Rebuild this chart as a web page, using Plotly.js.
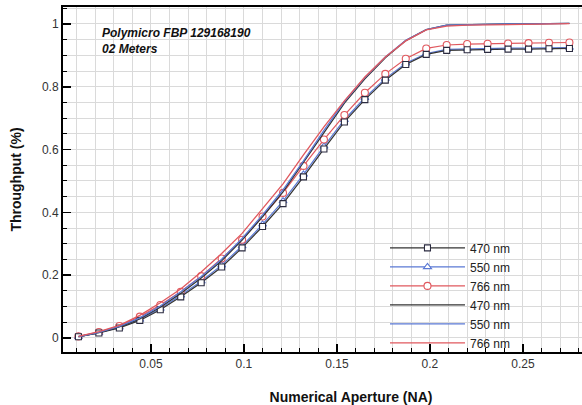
<!DOCTYPE html>
<html>
<head>
<meta charset="utf-8">
<script src="https://cdn.plot.ly/plotly-3.0.1.min.js"></script>
<style>
html, body { margin: 0; padding: 0; overflow: hidden; background: #fff; }
#chart { width: 640px; height: 405px; }
</style>
</head>
<body>
<div id="chart"></div>
<script>
// Numerical aperture values (x)
var na = [0.011, 0.022, 0.033, 0.044, 0.055, 0.066, 0.077, 0.088, 0.099, 0.110,
          0.121, 0.132, 0.143, 0.154, 0.165, 0.176, 0.187, 0.198, 0.209, 0.220,
          0.231, 0.242, 0.253, 0.264, 0.275];

// X tick labels
var xTicks = [0.05, 0.1, 0.15, 0.2, 0.25];

// Measured throughput (with markers)
var t470 = [0.004, 0.016, 0.032, 0.056, 0.090, 0.131, 0.176, 0.226, 0.287, 0.355,
            0.428, 0.513, 0.602, 0.688, 0.759, 0.821, 0.871, 0.903, 0.916, 0.918,
            0.919, 0.920, 0.920, 0.921, 0.922];
var t550 = [0.004, 0.017, 0.034, 0.059, 0.094, 0.136, 0.181, 0.232, 0.293, 0.362,
            0.436, 0.521, 0.610, 0.695, 0.765, 0.826, 0.875, 0.906, 0.919, 0.921,
            0.922, 0.923, 0.923, 0.924, 0.925];
var t766 = [0.005, 0.019, 0.038, 0.068, 0.105, 0.147, 0.197, 0.253, 0.313, 0.387,
            0.462, 0.548, 0.632, 0.710, 0.781, 0.841, 0.889, 0.922, 0.933, 0.936,
            0.937, 0.938, 0.939, 0.940, 0.941];

// Normalized throughput (lines only)
var n470 = [0.004, 0.017, 0.035, 0.061, 0.098, 0.142, 0.191, 0.246, 0.312, 0.386,
            0.465, 0.558, 0.654, 0.748, 0.825, 0.892, 0.947, 0.982, 0.996, 0.998,
            0.999, 1.000, 1.000, 1.001, 1.002];
var n550 = [0.004, 0.018, 0.037, 0.064, 0.102, 0.147, 0.196, 0.251, 0.317, 0.392,
            0.472, 0.564, 0.661, 0.753, 0.829, 0.895, 0.948, 0.982, 0.996, 0.998,
            0.999, 1.000, 1.000, 1.001, 1.002];
var n766 = [0.005, 0.020, 0.040, 0.072, 0.112, 0.156, 0.210, 0.269, 0.333, 0.412,
            0.491, 0.583, 0.672, 0.755, 0.831, 0.895, 0.946, 0.981, 0.993, 0.996,
            0.997, 0.998, 0.999, 1.000, 1.001];

var names = ['470 nm', '550 nm', '766 nm'];
var noteText = 'Polymicro FBP 129168190<br>02 Meters';
var xTitle = 'Numerical Aperture (NA)';
var yTitle = 'Throughput (%)';

var cBlack = '#333333', cBlue = '#5a78d4', cRed = '#e0585e';
var FONT = 'Liberation Sans, Arial, Helvetica, sans-serif';

function mk(y, name, color, symbol, size) {
  return {
    x: na, y: y, name: name, type: 'scatter', mode: 'lines+markers',
    line: {color: color, width: 1.2},
    marker: {symbol: symbol, size: size, color: '#ffffff', line: {color: color, width: 1.1}}
  };
}
function ln(y, name, color) {
  return {x: na, y: y, name: name, type: 'scatter', mode: 'lines',
          line: {color: color, width: 1.3}};
}

var data = [
  mk(t550, names[1], cBlue, 'triangle-up', 7),
  mk(t766, names[2], cRed, 'circle', 7),
  mk(t470, names[0], cBlack, 'square', 6),
  ln(n470, names[0], cBlack),
  ln(n550, names[1], cBlue),
  ln(n766, names[2], cRed)
];
data[2].marker.line.color = '#2b2b40';
data[0].legendrank = 2; data[1].legendrank = 3; data[2].legendrank = 1;
data[3].legendrank = 4; data[4].legendrank = 5; data[5].legendrank = 6;

var gridC = '#dadada';
var layout = {
  width: 640, height: 405,
  margin: {l: 63, r: 1, t: 7, b: 53},
  paper_bgcolor: '#ffffff', plot_bgcolor: '#ffffff',
  font: {family: FONT, size: 12, color: '#222'},
  showlegend: true,
  legend: {
    x: 0.559, y: 0.3437, xanchor: 'left', yanchor: 'top',
    bgcolor: 'rgba(0,0,0,0)', borderwidth: 0,
    itemwidth: 75,
    font: {family: FONT, size: 12, color: '#222'}
  },
  xaxis: {
    range: [0.0027, 0.3124],
    tickmode: 'array', tickvals: xTicks,
    ticks: 'inside', ticklen: 8, tickwidth: 1.5, tickcolor: '#000',
    showline: true, linewidth: 2, linecolor: '#000', mirror: true,
    showgrid: true, gridcolor: gridC, gridwidth: 1,
    zeroline: false,
    tickfont: {family: FONT, size: 12, color: '#333'},
    minor: {tickmode: 'linear', tick0: 0, dtick: 0.01, ticks: 'inside', ticklen: 4, tickwidth: 1, tickcolor: '#000',
            showgrid: true, gridcolor: gridC, gridwidth: 1},
    title: {text: xTitle, font: {family: FONT, size: 14, color: '#111', weight: 'bold'}, standoff: 23}
  },
  yaxis: {
    range: [-0.0446, 1.054],
    tick0: 0, dtick: 0.2,
    ticks: 'inside', ticklen: 8, tickwidth: 1.5, tickcolor: '#000',
    showline: true, linewidth: 2, linecolor: '#000', mirror: true,
    showgrid: true, gridcolor: gridC, gridwidth: 1,
    zeroline: false,
    tickfont: {family: FONT, size: 12, color: '#333'},
    minor: {tick0: 0, dtick: 0.05, ticks: 'inside', ticklen: 4, tickwidth: 1, tickcolor: '#000',
            showgrid: true, gridcolor: gridC, gridwidth: 1},
    title: {text: yTitle, font: {family: FONT, size: 14, color: '#111', weight: 'bold'}, standoff: 17}
  },
  annotations: [{
    xref: 'paper', yref: 'paper', x: 0.064, y: 0.9014, xanchor: 'left', yanchor: 'middle',
    align: 'left', showarrow: false, text: noteText,
    font: {family: FONT, size: 12, color: '#111', weight: 'bold', style: 'italic'}
  }]
};

Plotly.newPlot('chart', data, layout, {displayModeBar: false, staticPlot: true});
</script>
</body>
</html>
